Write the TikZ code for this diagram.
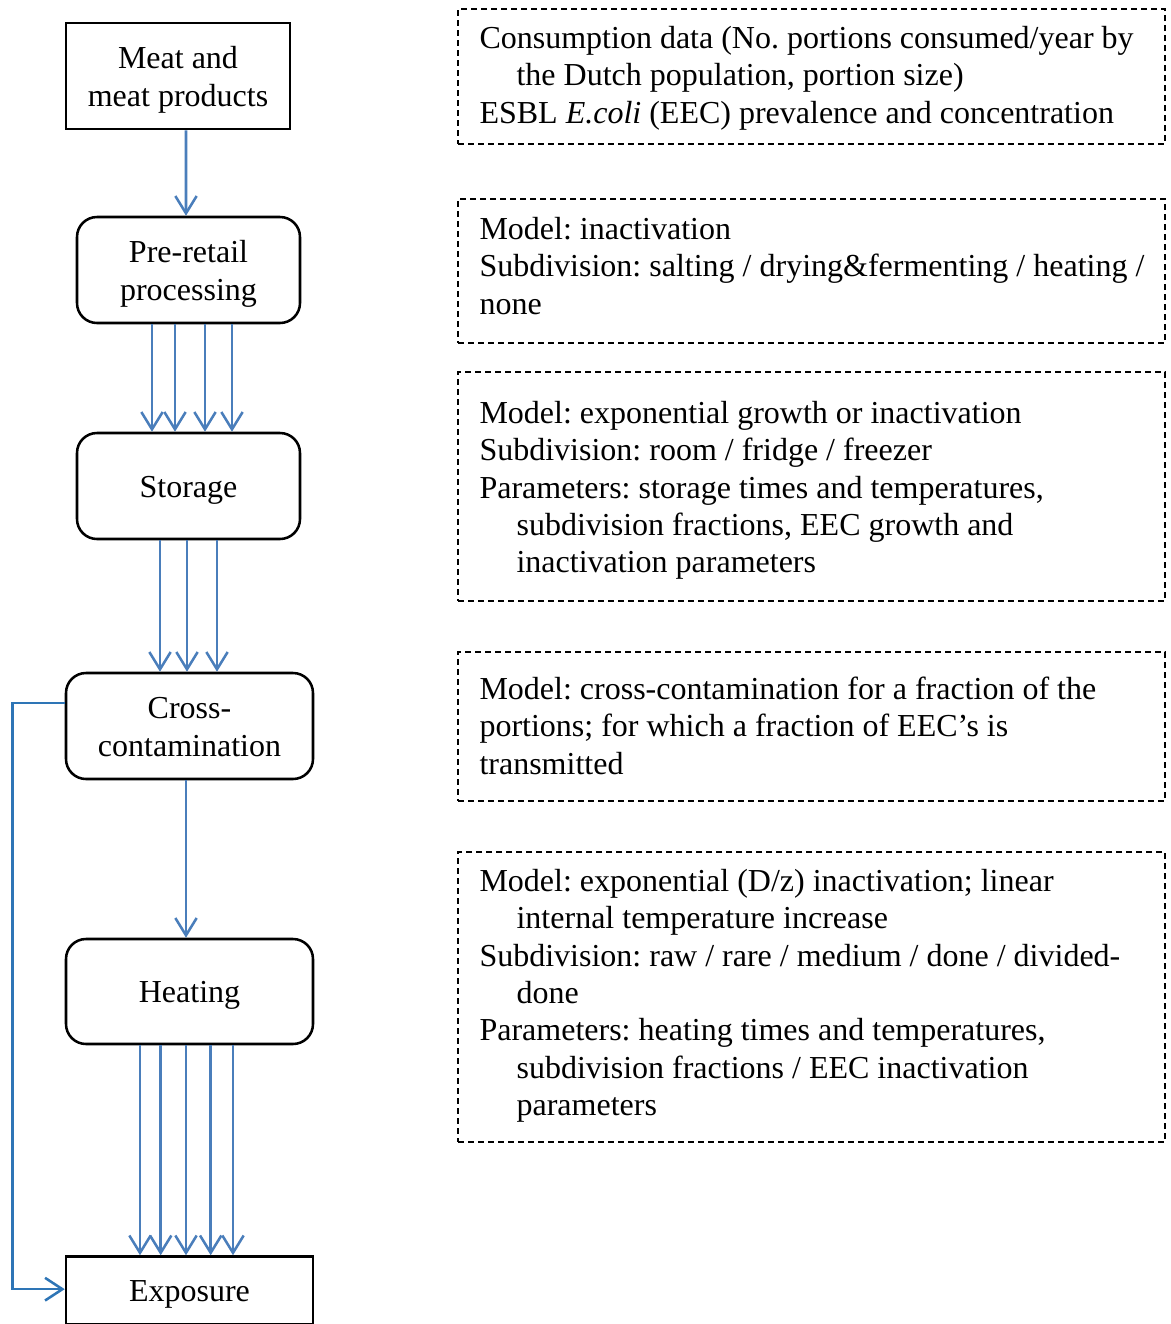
\documentclass[tikz,border=0pt]{standalone}
\usepackage{fontspec}
\setmainfont{Liberation Serif}
\usetikzlibrary{arrows.meta}
\definecolor{arrblue}{HTML}{4A7EBB}
\definecolor{fbblue}{HTML}{2E75B6}
\newcommand\bstrut{\rule[-2.6pt]{0pt}{13.8pt}}
\newcommand\hind{\hspace*{13.9pt}}
\frenchspacing
\begin{document}
\begin{tikzpicture}[x=0.375pt, y=-0.375pt,
  lbox/.style={draw, line width=0.95pt, align=center, inner sep=0pt, font=\fontsize{12}{14.25}\selectfont},
  rbox/.style={lbox, rounded corners=7.5pt},
  dbox/.style={draw, line width=0.65pt, dash pattern=on 2.25pt off 1.5pt, inner sep=0pt},
  rtext/.style={anchor=north west, yshift=9.8pt, inner sep=0pt, align=left, font=\fontsize{12}{14}\selectfont},
  arr/.style={draw=arrblue, line width=0.95pt, -{Straight Barb[length=6.5pt,width=8pt]}},
  fb/.style={draw=fbblue, line width=0.95pt, -{Straight Barb[length=6.5pt,width=8.5pt]}}]
\useasboundingbox (0,0) rectangle (1171,1324);
\clip (0,0) rectangle (1171,1324);
\fill[white] (0,0) rectangle (1171,1324);

% left column
\node[lbox, minimum width={224*0.375pt}, minimum height={106*0.375pt}] (meat) at (178,76) {\bstrut Meat and\\\bstrut meat products};
\node[rbox, minimum width={223*0.375pt}, minimum height={106*0.375pt}] (pre) at (188.5,270) {\bstrut Pre-retail\\\bstrut processing};
\node[rbox, minimum width={223*0.375pt}, minimum height={106*0.375pt}] (store) at (188.5,486) {\bstrut Storage};
\node[rbox, minimum width={247*0.375pt}, minimum height={106*0.375pt}] (cross) at (189.5,726) {\bstrut Cross-\\\bstrut contamination};
\node[rbox, minimum width={247*0.375pt}, minimum height={105*0.375pt}] (heat) at (189.5,991.5) {\bstrut Heating};
\node[lbox, minimum width={247*0.375pt}, minimum height={68*0.375pt}] (expo) at (189.5,1290.5) {\bstrut Exposure};

% connectors
\draw[arr] ([xshift=3pt]meat.south) -- ([xshift=-0.94pt]pre.north);
\foreach \d in {-36.5,-13.5,16.5,43.5}
  \draw[arr] ([shift={(\d,0)}]pre.south) -- ([shift={(\d,0)}]store.north);
\foreach \a/\b in {-28.5/-29.5,-1.5/-2.5,28.5/27.5}
  \draw[arr] ([shift={(\a,0)}]store.south) -- ([shift={(\b,0)}]cross.north);
\draw[arr] ([shift={(-3.5,0)}]cross.south) -- ([shift={(-3.5,0)}]heat.north);
\foreach \d in {-49.5,-28.8,-3.5,21.2,43.5}
  \draw[arr] ([shift={(\d,0)}]heat.south) -- ([shift={(\d,0)}]expo.north);
\draw[fb] ([yshift=8.6pt]cross.west) -- ++(-52,0) |- ([yshift=0.5pt]expo.west);

% right column
\node[dbox, minimum width={707*0.375pt}, minimum height={135*0.375pt}] (d1) at (811.5,76.5) {};
\node[rtext] (t1) at (479,48) {\strut Consumption data (No. portions consumed/year by\\
\hind the Dutch population, portion size)\\
ESBL \textit{E.coli} (EEC) prevalence and concentration};

\node[dbox, minimum width={707*0.375pt}, minimum height={144*0.375pt}] (d2) at (811.5,271) {};
\node[rtext] (t2) at (479,239) {\strut Model: inactivation\\
Subdivision: salting / drying\&fermenting / heating /\\
none};

\node[dbox, minimum width={707*0.375pt}, minimum height={229*0.375pt}] (d3) at (811.5,486.5) {};
\node[rtext] (t3) at (479,423) {\strut Model: exponential growth or inactivation\\
Subdivision: room / fridge / freezer\\
Parameters: storage times and temperatures,\\
\hind subdivision fractions, EEC growth and\\
\hind inactivation parameters};

\node[dbox, minimum width={707*0.375pt}, minimum height={149*0.375pt}] (d4) at (811.5,726.5) {};
\node[rtext] (t4) at (479,699) {\strut Model: cross-contamination for a fraction of the\\
portions; for which a fraction of EEC’s is\\
transmitted};

\node[dbox, minimum width={707*0.375pt}, minimum height={290*0.375pt}] (d5) at (811.5,997) {};
\node[rtext] (t5) at (479,891) {\strut Model: exponential (D/z) inactivation; linear\\
\hind internal temperature increase\\
Subdivision: raw / rare / medium / done / divided-\\
\hind done\\
Parameters: heating times and temperatures,\\
\hind subdivision fractions / EEC inactivation\\
\hind parameters};
\end{tikzpicture}
\end{document}
